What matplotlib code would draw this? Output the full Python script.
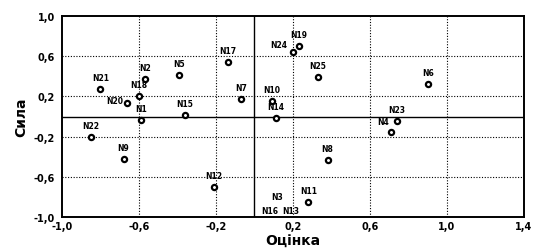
import numpy as np
import matplotlib
matplotlib.use("Agg")
import matplotlib.pyplot as plt

# -------------------------------------------------
# DATA
# -------------------------------------------------
names = ["N1", "N2", "N4", "N5", "N6", "N7", "N8", "N9", "N10", "N11",
         "N12", "N14", "N15", "N17", "N18", "N19", "N20", "N21", "N22",
         "N23", "N24", "N25"]
ocinka = [-0.59, -0.57, 0.71, -0.39, 0.90, -0.07, 0.38, -0.68, 0.09, 0.28,
          -0.21, 0.11, -0.36, -0.14, -0.60, 0.23, -0.66, -0.80, -0.85,
          0.74, 0.20, 0.33]
syla = [-0.03, 0.37, -0.15, 0.41, 0.32, 0.17, -0.43, -0.42, 0.15, -0.85,
        -0.70, -0.01, 0.02, 0.54, 0.20, 0.70, 0.13, 0.27, -0.20,
        -0.04, 0.64, 0.39]

# points whose markers are not visible, only their labels
hidden_names = ["N3", "N16", "N13"]
hidden_x = [0.12, 0.08, 0.19]
hidden_y = [-0.80, -0.93, -0.93]

x_ticks = [-1.0, -0.6, -0.2, 0.2, 0.6, 1.0, 1.4]
y_ticks = [-1.0, -0.6, -0.2, 0.2, 0.6, 1.0]

# label placement (offset in points) - mostly above the marker
offsets = {"N20": (-9, -1), "N24": (-10, 2), "N4": (-6, 4)}

# -------------------------------------------------
# PLOT
# -------------------------------------------------
fig = plt.figure(figsize=(5.39, 2.53), dpi=100)
ax = fig.add_axes([0.115, 0.138, 0.857, 0.795])

ax.set_xlim(-1.0, 1.4)
ax.set_ylim(-1.0, 1.0)

for xv in x_ticks[1:-1]:
    ax.axvline(xv, color="black", linestyle=(0, (1, 1.5)), linewidth=0.8)
for yv in y_ticks[1:-1]:
    ax.axhline(yv, color="black", linestyle=(0, (1, 1.5)), linewidth=0.8)
ax.axvline(0, color="black", linewidth=1.0)
ax.axhline(0, color="black", linewidth=1.0)

ax.scatter(ocinka, syla, s=14, facecolors="white", edgecolors="black",
           linewidths=1.6, zorder=3)

for n, xv, yv in zip(names, ocinka, syla):
    dx, dy = offsets.get(n, (0, 5))
    ax.annotate(n, (xv, yv), xytext=(dx, dy), textcoords="offset points",
                ha="center", va="bottom", fontsize=5.5, fontweight="bold")

for n, xv, yv in zip(hidden_names, hidden_x, hidden_y):
    ax.text(xv, yv, n, ha="center", va="center", fontsize=5.5,
            fontweight="bold")

ax.set_xticks(x_ticks)
ax.set_yticks(y_ticks)
ax.set_xticklabels([f"{v:.1f}".replace(".", ",") for v in x_ticks],
                   fontsize=7, fontweight="bold")
ax.set_yticklabels([f"{v:.1f}".replace(".", ",") for v in y_ticks],
                   fontsize=7, fontweight="bold")
ax.tick_params(axis="x", length=0, pad=3)
ax.tick_params(axis="y", length=0, pad=5)

for sp in ax.spines.values():
    sp.set_linewidth(1.4)

ax.set_xlabel("Оцінка", fontsize=10, fontweight="bold", labelpad=2)
ax.set_ylabel("Сила", fontsize=10, fontweight="bold", labelpad=4)

plt.savefig("out.png", dpi=100)
plt.close()
